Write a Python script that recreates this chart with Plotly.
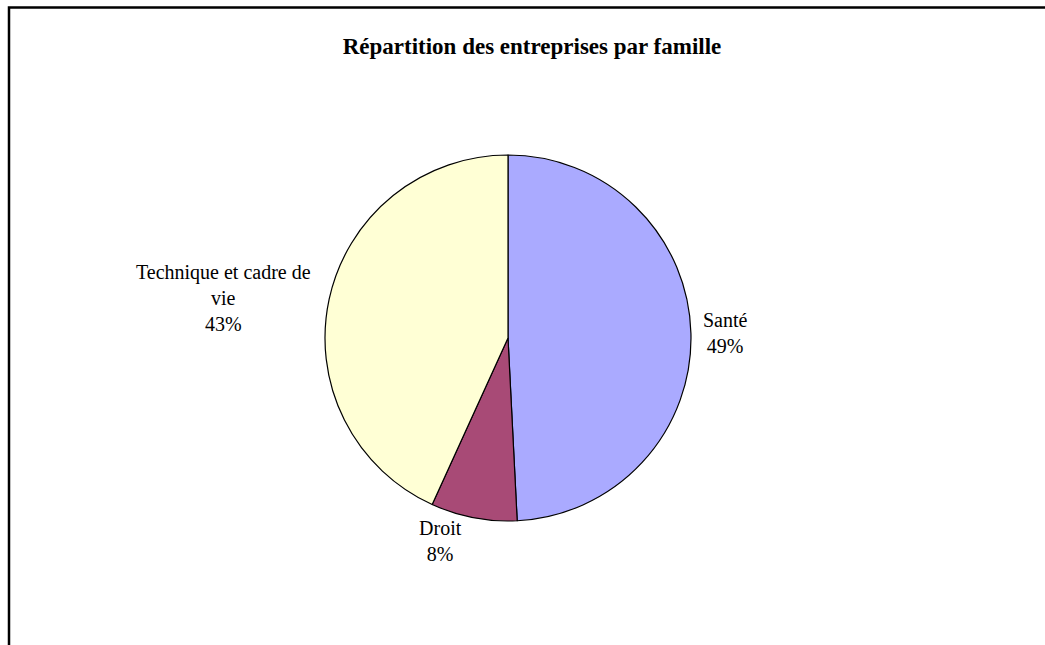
import plotly.graph_objects as go

categories = ["Santé", "Droit", "Technique et cadre de<br>vie"]
values = [49.2, 7.6, 43.2]
colors = ["#AAAAFF", "#A84A76", "#FFFFD5"]

W, H = 1045, 645

fig = go.Figure(go.Pie(
    labels=categories,
    values=values,
    sort=False,
    direction="clockwise",
    rotation=0,
    marker=dict(colors=colors, line=dict(color="#000000", width=1.2)),
    textposition="outside",
    texttemplate="%{label}<br>%{percent:.0%}",
    textfont=dict(family="Liberation Serif", size=20, color="#000000"),
    hoverinfo="label+percent",
    showlegend=False,
    domain=dict(x=[325 / W, 691 / W], y=[(H - 521) / H, (H - 155) / H]),
))

fig.update_layout(
    width=W, height=H,
    margin=dict(l=0, r=0, t=0, b=0),
    paper_bgcolor="#FFFFFF",
    plot_bgcolor="#FFFFFF",
    title=dict(
        text="<b>Répartition des entreprises par famille</b>",
        x=532 / W, xanchor="center", xref="paper",
        y=1 - 46 / H, yanchor="middle", yref="paper",
        font=dict(family="Liberation Serif", size=23, color="#000000"),
    ),
    shapes=[dict(
        type="rect", xref="paper", yref="paper",
        x0=9 / W, x1=1.05, y0=-0.05, y1=1 - 7.5 / H,
        line=dict(color="#000000", width=2.5),
        fillcolor="rgba(0,0,0,0)",
        layer="above",
    )],
)

fig.write_html("out.html", config={"displayModeBar": False})

with open("out.html", "r", encoding="utf-8") as f:
    html = f.read()
html = html.replace("<head>", "<head><style>html,body{margin:0;padding:0;overflow:hidden;}</style>", 1)
with open("out.html", "w", encoding="utf-8") as f:
    f.write(html)
